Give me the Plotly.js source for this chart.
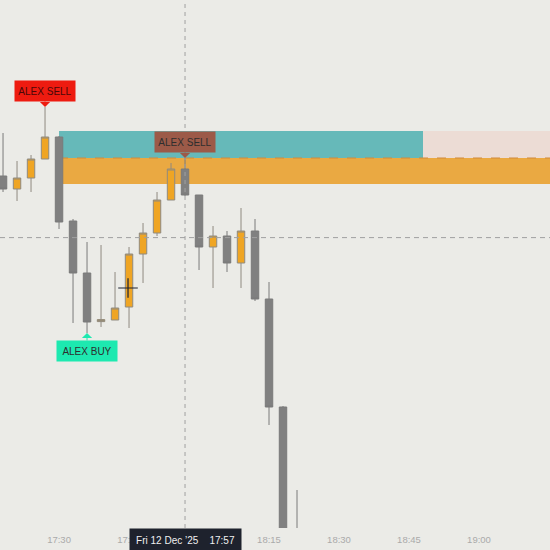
<!DOCTYPE html>
<html><head><meta charset="utf-8">
<script src="https://cdn.plot.ly/plotly-3.0.1.min.js"></script>
<style>html,body{margin:0;padding:0;background:#ebebe7;}#chart{width:550px;height:550px;}</style>
</head><body><div id="chart"></div>
<script>
// 3-minute candles, Fri 12 Dec 2025
const times = ['2025-12-12 17:18','2025-12-12 17:21','2025-12-12 17:24','2025-12-12 17:27','2025-12-12 17:30',
  '2025-12-12 17:33','2025-12-12 17:36','2025-12-12 17:39','2025-12-12 17:42','2025-12-12 17:45',
  '2025-12-12 17:48','2025-12-12 17:51','2025-12-12 17:54','2025-12-12 17:57','2025-12-12 18:00',
  '2025-12-12 18:03','2025-12-12 18:06','2025-12-12 18:09','2025-12-12 18:12','2025-12-12 18:15',
  '2025-12-12 18:18','2025-12-12 18:21'];
const opens  = [4331.20,4330.55,4331.10,4332.05,4333.15,4328.95,4326.35,4323.92,4324.00,4324.65,4327.30,4328.35,4330.00,4331.55,4330.25,4327.65,4328.20,4326.85,4328.45,4325.05,4319.65,4313.00];
const highs  = [4333.35,4331.95,4332.25,4334.65,4333.20,4329.05,4327.90,4327.75,4326.40,4327.65,4328.85,4330.40,4331.85,4332.10,4330.25,4328.70,4328.45,4329.60,4329.05,4325.90,4319.70,4315.50];
const lows   = [4330.40,4329.95,4330.40,4332.05,4328.55,4323.85,4323.35,4323.65,4324.00,4323.60,4325.85,4328.20,4330.00,4330.20,4326.50,4325.60,4326.40,4325.60,4324.95,4318.75,4312.00,4311.25];
const closes = [4330.55,4331.10,4332.05,4333.15,4328.90,4326.35,4323.90,4324.02,4324.60,4327.30,4328.35,4330.00,4331.55,4330.25,4327.65,4328.20,4326.85,4328.45,4325.05,4319.65,4312.75,4312.00];

// signals
const signalText  = ['ALEX SELL','ALEX SELL','ALEX BUY'];
const signalTime  = ['2025-12-12 17:27','2025-12-12 17:57','2025-12-12 17:36'];
const signalPrice = [4334.65,4332.10,4323.35];
const signalSide  = ['sell','sell','buy'];

// zones
const zoneStart   = '2025-12-12 17:30';
const zoneSplit   = '2025-12-12 18:48';
const upperZone   = [4332.10,4333.45];
const lowerZone   = [4330.80,4332.10];

// crosshair
const crossTime  = '2025-12-12 17:57';
const crossPrice = 4328.12;
const crossLabel = 'Fri 12 Dec \u201925\u00a0\u00a0\u00a0\u00a017:57';
const cursorTime = '2025-12-12 17:44:47';
const cursorPrice = 4325.60;

const tickLabelsEvery = 15; // minutes

const FONT = 'Liberation Sans Narrow, Liberation Sans, Arial, sans-serif';

const candles = {
  type:'candlestick', x:times, open:opens, high:highs, low:lows, close:closes,
  increasing:{line:{color:'#8f8a80', width:1}, fillcolor:'#efa524'},
  decreasing:{line:{color:'#7a7a7a', width:1}, fillcolor:'#808080'},
  whiskerwidth:0, hoverinfo:'skip', showlegend:false
};
const cursor = {
  type:'scatter', mode:'markers', x:[cursorTime], y:[cursorPrice],
  marker:{symbol:'cross-thin-open', size:14, color:'#1c2233', line:{color:'#1c2233', width:1.2}},
  hoverinfo:'skip', showlegend:false
};

const sigColors = ['#ee1b10','#9c5a48','#1de9b0'];
const sigFont = ['#4a0808','#2e2e2e','#2e2e2e'];
const annotations = signalText.map((t,i)=>({
  x:signalTime[i], y:signalPrice[i], xref:'x', yref:'y', text:t,
  showarrow:true, ax:0, ay: signalSide[i]==='sell' ? -16 : 18,
  arrowhead:1, arrowsize:1.7, arrowwidth:1, arrowcolor:sigColors[i], standoff:0,
  bgcolor:sigColors[i], width:60, height:20, borderpad:0,
  font:{family:FONT, size:10, color:sigFont[i]}
}));
annotations.push({
  x:crossTime, y:0, xref:'x', yref:'paper', yanchor:'top', xanchor:'center', yshift:0,
  text:crossLabel, showarrow:false, bgcolor:'#1e222d', width:109, height:21,
  font:{family:'Liberation Sans, Arial, sans-serif', size:10, color:'#f0f0f0'}
});

const shapes = [
  {type:'rect', layer:'below', xref:'x', yref:'y', x0:zoneStart, x1:zoneSplit, y0:upperZone[0], y1:upperZone[1], fillcolor:'#66b9b9', line:{width:0}},
  {type:'rect', layer:'below', xref:'x', yref:'y', x0:zoneSplit, x1:'2025-12-12 19:30', y0:upperZone[0], y1:upperZone[1], fillcolor:'#ecdcd5', line:{width:0}},
  {type:'rect', layer:'below', xref:'x', yref:'y', x0:zoneStart, x1:'2025-12-12 19:30', y0:lowerZone[0], y1:lowerZone[1], fillcolor:'#eaa942', line:{width:0}},
  {type:'line', layer:'below', xref:'x', yref:'y', x0:zoneStart, x1:'2025-12-12 19:30', y0:upperZone[0], y1:upperZone[0], line:{color:'#d08a3a', width:1, dash:'dash'}},
  {type:'line', layer:'above', xref:'x', yref:'paper', x0:crossTime, x1:crossTime, y0:0, y1:1, line:{color:'#a0a0a0', width:1, dash:'4px,4px'}},
  {type:'line', layer:'above', xref:'paper', yref:'y', x0:0, x1:1, y0:crossPrice, y1:crossPrice, line:{color:'#a0a0a0', width:1, dash:'5px,4px'}}
];

const layout = {
  width:550, height:550, margin:{l:0, r:0, t:0, b:22},
  paper_bgcolor:'#ebebe7', plot_bgcolor:'#ebebe7',
  showlegend:false, boxgap:0.24, hovermode:false,
  xaxis:{type:'date', range:['2025-12-12 17:17:21','2025-12-12 19:15:13'],
    tick0:'2025-12-12 17:15', dtick:tickLabelsEvery*60000, tickformat:'%H:%M',
    showgrid:false, zeroline:false, showline:false, ticks:'', ticklabelstandoff:4,
    tickfont:{family:FONT, size:9.5, color:'#aaaaaa'},
    rangeslider:{visible:false}, fixedrange:true},
  yaxis:{range:[4313.6,4340], showticklabels:false, showgrid:false, zeroline:false, showline:false, ticks:'', fixedrange:true},
  shapes:shapes, annotations:annotations
};

Plotly.newPlot('chart',[candles, cursor], layout, {displayModeBar:false, staticPlot:true});
</script></body></html>
